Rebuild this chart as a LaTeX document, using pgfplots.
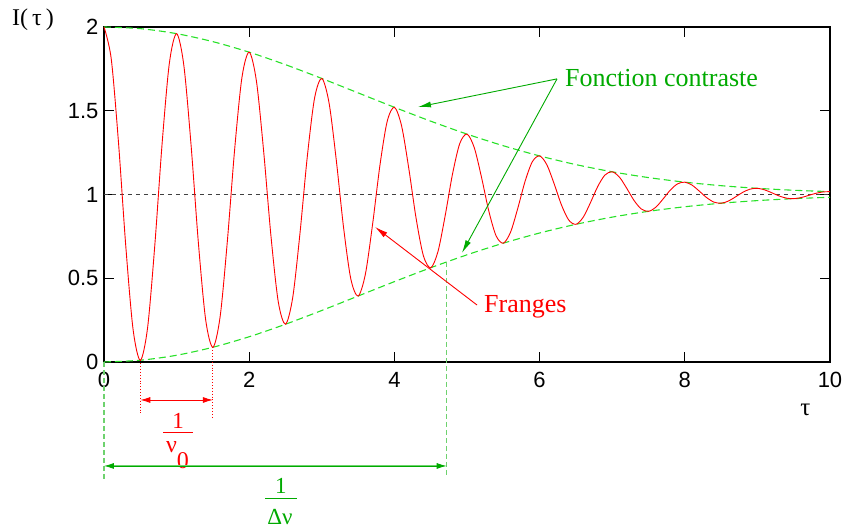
\documentclass[border=0pt]{standalone}
\usepackage{pgfplots}
\usepackage{pgfplotstable}
\pgfplotsset{compat=1.18}
\usepackage{fontspec}
\setmainfont{Liberation Serif}
\setsansfont{Liberation Sans}
\usetikzlibrary{arrows.meta}

\definecolor{curvered}{RGB}{255,0,0}
\definecolor{envgreen}{RGB}{40,225,40}
\definecolor{notegreen}{RGB}{0,170,0}
\definecolor{guidegreen}{RGB}{110,210,110}

% Interferogram I(tau) = 1 + V(tau) cos(2 pi nu0 tau), sampled every 0.1
\pgfplotstableread{
tau I
0.0 2.0000
0.1 1.8087
0.2 1.3085
0.3 0.6921
0.4 0.1963
0.5 0.0102
0.6 0.2028
0.7 0.6971
0.8 1.3011
0.9 1.7827
1.0 1.9600
1.1 1.7700
1.2 1.2914
1.3 0.7116
1.4 0.2532
1.5 0.0877
1.6 0.2713
1.7 0.7254
1.8 1.2707
1.9 1.6982
2.0 1.8494
2.1 1.6758
2.2 1.2536
2.3 0.7510
2.4 0.3605
2.5 0.2252
2.6 0.3861
2.7 0.7705
2.8 1.2244
2.9 1.5740
3.0 1.6926
3.1 1.5465
3.2 1.2035
3.3 0.8019
3.4 0.4953
3.5 0.3935
3.6 0.5233
3.7 0.8233
3.8 1.1714
3.9 1.4349
4.0 1.5205
4.1 1.4074
4.2 1.1504
4.3 0.8547
4.4 0.6329
4.5 0.5624
4.6 0.6589
4.7 0.8746
4.8 1.1207
4.9 1.3036
5.0 1.3604
5.1 1.2798
5.2 1.1025
5.3 0.9018
5.4 0.7539
5.5 0.7091
5.6 0.7751
5.7 0.9180
5.8 1.0783
5.9 1.1954
6.0 1.2301
6.1 1.1772
6.2 1.0644
6.3 0.9388
6.4 0.8480
6.5 0.8217
6.6 0.8633
6.7 0.9505
6.8 1.0468
6.9 1.1159
7.0 1.1353
7.1 1.1034
7.2 1.0372
7.3 0.9649
7.4 0.9135
7.5 0.8993
7.6 0.9234
7.7 0.9725
7.8 1.0258
7.9 1.0633
8.0 1.0734
8.1 1.0556
8.2 1.0199
8.3 0.9814
8.4 0.9546
8.5 0.9476
8.6 0.9605
8.7 0.9859
8.8 1.0131
8.9 1.0319
9.0 1.0367
9.1 1.0275
9.2 1.0098
9.3 0.9909
9.4 0.9780
9.5 0.9749
9.6 0.9812
9.7 0.9934
9.8 1.0061
9.9 1.0148
10.0 1.0169
}\fringes

% Contrast envelope 1 +/- V(tau)
\pgfplotstableread{
tau up low
0.0 2.0000 0.0000
0.5 1.9899 0.0102
1.0 1.9600 0.0400
1.5 1.9123 0.0877
2.0 1.8494 0.1506
2.5 1.7748 0.2252
3.0 1.6926 0.3074
3.5 1.6065 0.3935
4.0 1.5205 0.4795
4.5 1.4376 0.5624
5.0 1.3604 0.6396
5.5 1.2909 0.7091
6.0 1.2301 0.7699
6.5 1.1783 0.8217
7.0 1.1353 0.8647
7.5 1.1007 0.8993
8.0 1.0734 0.9266
8.5 1.0524 0.9476
9.0 1.0367 0.9633
9.5 1.0251 0.9749
10.0 1.0169 0.9831
}\envelope

\begin{document}
\begin{tikzpicture}
\begin{axis}[
  scale only axis, width=726pt, height=335pt,
  xmin=0, xmax=10, ymin=0, ymax=2,
  xtick={0,2,4,6,8,10}, ytick={0,0.5,1,1.5,2},
  tick align=inside, major tick length=10pt,
  axis line style={line width=1.2pt},
  every tick/.style={black, line width=1.2pt},
  tick label style={font=\sffamily\fontsize{22}{26}\selectfont},
  xticklabel style={yshift=-7pt},
  yticklabel style={xshift=-2pt, /pgf/number format/fixed},
  /pgf/number format/assume math mode=true,
  clip=false,
]
% reference level
\addplot[black!75, line width=0.8pt, dash pattern=on 4pt off 4pt] coordinates {(0,1) (10,1)};
% envelope
\addplot[envgreen, line width=1.1pt, dash pattern=on 7pt off 4pt, smooth] table[x=tau, y=up] {\envelope};
\addplot[envgreen, line width=1.1pt, dash pattern=on 7pt off 4pt, smooth] table[x=tau, y=low] {\envelope};
% fringes
\addplot[curvered, line width=0.9pt, smooth] table[x=tau, y=I] {\fringes};

% period 1/nu0
\draw[curvered, line width=0.9pt, dotted] (axis cs:0.5,0.0102) -- (axis cs:0.5,-0.304);
\draw[curvered, line width=0.9pt, dotted] (axis cs:1.5,0.0877) -- (axis cs:1.5,-0.340);
\draw[curvered, line width=0.9pt, {Latex[length=10pt,width=6pt]}-{Latex[length=10pt,width=6pt]}]
  (axis cs:0.5,-0.227) -- (axis cs:1.5,-0.227);
\draw[curvered, line width=0.9pt] (axis cs:0.813,-0.418) -- (axis cs:1.226,-0.418);
\node[curvered, anchor=base, inner sep=0pt, font=\fontsize{23}{27}\selectfont] at (axis cs:1.02,-0.400) {1};
\node[curvered, anchor=base, inner sep=0pt, font=\fontsize{24}{28}\selectfont] at (axis cs:1.012,-0.543) {ν\raisebox{-16pt}{0}};

% coherence time 1/Delta nu
\draw[guidegreen, line width=1.5pt, dash pattern=on 5pt off 3pt] (axis cs:0,0) -- (axis cs:0,-0.710);
\draw[guidegreen, line width=1.5pt, dash pattern=on 5pt off 3pt] (axis cs:4.72,0.597) -- (axis cs:4.72,-0.680);
\draw[guidegreen, line width=1.3pt] (axis cs:0.1,-0.621) -- (axis cs:4.62,-0.621);
\draw[notegreen, line width=0.8pt, {Latex[length=10pt,width=6pt]}-{Latex[length=10pt,width=6pt]}]
  (axis cs:0,-0.621) -- (axis cs:4.72,-0.621);
\draw[notegreen, line width=0.9pt] (axis cs:2.218,-0.812) -- (axis cs:2.658,-0.812);
\node[notegreen, anchor=base, inner sep=0pt, font=\fontsize{23}{27}\selectfont] at (axis cs:2.438,-0.783) {1};
\node[notegreen, anchor=base, inner sep=0pt, font=\fontsize{23}{27}\selectfont] at (axis cs:2.424,-0.973) {Δν};

% labels
\node[notegreen, anchor=base west, inner sep=0pt, font=\fontsize{26}{30}\selectfont] at (axis cs:6.35,1.642) {Fonction contraste};
\draw[notegreen, line width=0.9pt, -{Latex[length=13pt,width=6pt]}] (axis cs:6.24,1.690) -- (axis cs:4.325,1.522);
\draw[notegreen, line width=0.9pt, -{Latex[length=13pt,width=6pt]}] (axis cs:6.24,1.690) -- (axis cs:4.931,0.651);
\node[curvered, anchor=base west, inner sep=0pt, font=\fontsize{26}{30}\selectfont] at (axis cs:5.234,0.293) {Franges};
\draw[curvered, line width=0.9pt, -{Latex[length=13pt,width=6pt]}] (axis cs:5.138,0.340) -- (axis cs:3.733,0.806);

\node[font=\fontsize{25}{30}\selectfont, inner sep=0pt] at (axis cs:9.66,-0.287) {τ};
\node[font=\fontsize{24}{28}\selectfont, inner sep=0pt] at (axis cs:-0.978,2.042) {I(\,τ\,)};

\coordinate (bbsw) at (axis cs:-1.4325,-0.997);
\coordinate (bbne) at (axis cs:10.193,2.161);
\end{axis}
\pgfresetboundingbox
\path[use as bounding box] (bbsw) rectangle (bbne);
\end{tikzpicture}
\end{document}
